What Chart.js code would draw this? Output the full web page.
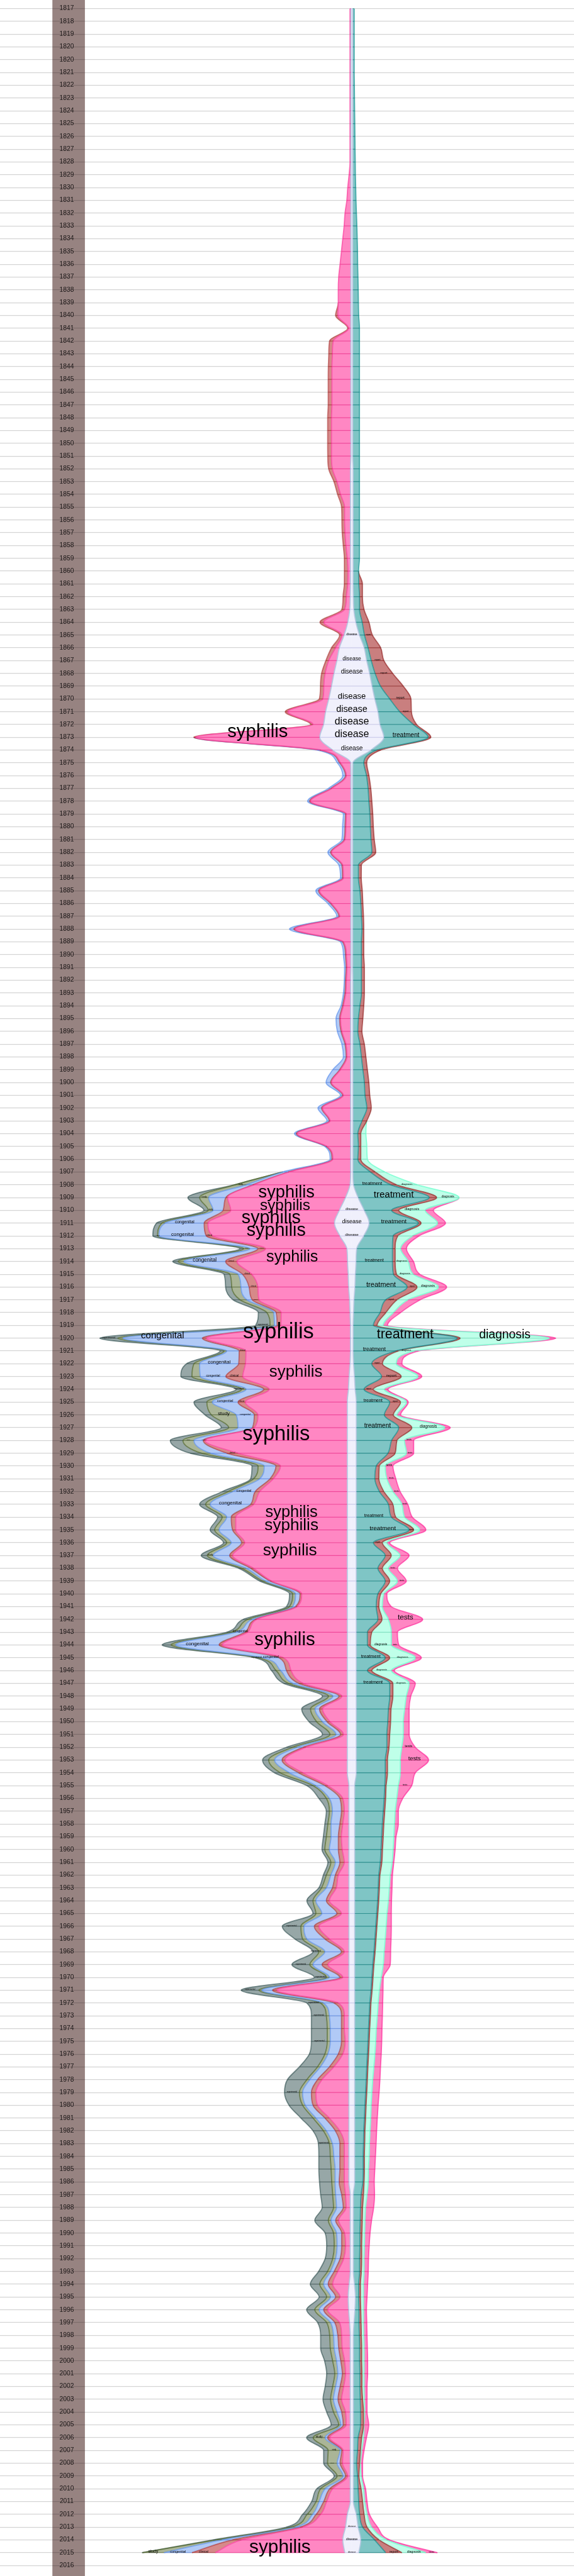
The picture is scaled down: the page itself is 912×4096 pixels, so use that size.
<!DOCTYPE html>
<html><head><meta charset="utf-8">
<style>html,body{margin:0;padding:0;background:#fff;}canvas{display:block;}</style>
<script src="https://cdn.jsdelivr.net/npm/chart.js@4.4.1/dist/chart.umd.min.js"></script>
</head><body>
<canvas id="c" width="912" height="4096"></canvas>
<script>
const years = [
'1817','1818','1819','1820','1820','1821','1822','1823','1824','1825',
'1826','1827','1828','1829','1830','1831','1832','1833','1834','1835',
'1836','1837','1838','1839','1840','1841','1842','1843','1844','1845',
'1846','1847','1848','1849','1850','1851','1852','1853','1854','1855',
'1856','1857','1858','1859','1860','1861','1862','1863','1864','1865',
'1866','1867','1868','1869','1870','1871','1872','1873','1874','1875',
'1876','1877','1878','1879','1880','1881','1882','1883','1884','1885',
'1886','1887','1888','1889','1890','1891','1892','1893','1894','1895',
'1896','1897','1898','1899','1900','1901','1902','1903','1904','1905',
'1906','1907','1908','1909','1910','1911','1912','1913','1914','1915',
'1916','1917','1918','1919','1920','1921','1922','1923','1924','1925',
'1926','1927','1928','1929','1930','1931','1932','1933','1934','1935',
'1936','1937','1938','1939','1940','1941','1942','1943','1944','1945',
'1946','1947','1948','1949','1950','1951','1952','1953','1954','1955',
'1956','1957','1958','1959','1960','1961','1962','1963','1964','1965',
'1966','1967','1968','1969','1970','1971','1972','1973','1974','1975',
'1976','1977','1978','1979','1980','1981','1982','1983','1984','1985',
'1986','1987','1988','1989','1990','1991','1992','1993','1994','1995',
'1996','1997','1998','1999','2000','2001','2002','2003','2004','2005',
'2006','2007','2008','2009','2010','2011','2012','2013','2014','2015',
'2016'];

// centre layer (straddles the middle line)
const disease = [
4,4,4,4,4,4,4,4,4,4, 4,4,4,4,4,4,4,4,4,4, 4,4,4,4,4,4,4,4,4,4, 4,4,4,4,4,4,6,6,6,6,
6,6,6,6,6,6,7,9,18,34, 55,66,79,90,102,116,125,142,85,5, 4,4,4,4,4,4,4,4,4,4, 4,4,4,4,4,4,5,5,5,5,
5,5,5,5,5,5,5,5,5,5, 5,5,8,28,55,77,53,22,19,16, 14,10,8,6,6,6,8,12,15,20, 20,20,20,20,20,20,20,20,20,20,
20,20,20,20,20,20,20,20,20,20, 20,20,20,20,20,20,20,20,20,13, 13,13,13,13,13,13,13,13,13,13, 13,13,13,13,13,13,13,13,13,13,
13,13,13,13,13,13,13,13,13,13, 13,7,7,7,7,7,7,7,12,16, 14,10,7,7,7,7,7,7,7,7, 7,7,7,7,7,7,20,28,40,31];

// left side, from the centre outwards
const syphilis = [
2,2,2,2,2,2,2,2,2,2, 2,2,2,4,7,9,13,15,18,21, 24,27,28,28,29,5,39,41,42,42, 42,42,43,43,43,43,40,30,22,13,
13,12,10,7,5.5,6,8.5,11.5,53,5, 8.5,18,19.5,17,13,83.5,23.5,275,26,22.5, 10,42.5,89.5,10,11,13,43,18,16.6,69.6,
43,24.5,124,16.6,10,8.6,9.5,10.8,16.1,22.5, 19.5,10.5,8.1,22.5,42.5,16.1,62.5,45.5,118.5,52.5,
39.5,136.5,212.5,261,240.5,280,282,180,245,213.5, 201,200.5,152.5,154,319,231.5,231.5,235.5,175.5,226,
198,206,315,242,148,164,194,207.5,247,247, 227,254,207.5,167.7,101,111,201,221,277,141,
124.6,98,11.9,55,38.4,8.6,91.5,138,98,46.5, 13.5,10.1,13.5,16.5,14.7,10.1,23.5,28,43.2,16.5,
66.5,43.2,10.1,46.5,13.5,159.3,23.5,10.1,10.1,8.1, 13.5,33.3,59.5,73.1,69.5,43.2,20,10.1,10.1,10.1,
10.1,10.5,9.1,25.5,12.5,10.4,14.4,27.5,36.4,17.9, 46.7,22,19,17.7,12.4,10.4,14.4,19,10.4,9.1,
45.5,15.7,17.1,5.8,38.9,52.2,59,94.8,224.7,287];

const clinical = [
0,0,0,0,0,0,0,0,0,0, 0,0,0,0,0,0,0,0,0,0, 0,0,0,0,5,2,8.4,8,8,8.3, 8.3,8.3,8.5,8.5,8.5,8.3,8.3,6.7,6.6,6.7,
6,6.3,6,6.6,8,7.6,7.5,6,8.5,5, 9,6.5,8,7.5,8,6,5,4,2.5,2, 2,2,2,2,2,2,2,2,2,2, 2,2,2.5,2,2,2,2,2,2,2,
2,2,2,2,2,2,2,2,2,2, 2,2,3,4,17,8.5,14,17,25,20.5, 19.5,15,11,8.5,9,15,15,37.5,12,16, 8,4,4,25,10,7,10,6.5,10,7,
7,6.6,6.5,3.3,3.7,3.7,3,6,7,10, 10,10,6.6,6.6,6.6,6.4,6.5,6.5,10,6.7, 6.5,6.4,6.5,6.8,8.6,9.9,6.5,8.5,6.7,10,
10,10,6.4,13,6.5,9.9,9.8,6.4,6.4,8.4, 10,9.9,10,9.9,10,10,10,9.9,9.9,9.9, 11.4,8.5,6.4,6.8,6.5,8.6,8,8,10,9.9,
8.6,10.8,8.5,7.8,8.6,7.1,8,8,8.6,6.4, 4.7,3.3,5.3,4.6,6.6,6.6,10,6.2,19.9,51.5];

const congenital = [
0,0,0,0,0,0,0,0,0,0, 0,0,0,0,0,0,0,0,0,0, 0,0,0,0,0,0,0,0,0,0, 0,0,0,0,0,0,0,0,0,0,
0,0,0,0,0,0,0,0,0,0, 0,0,0,0,0,0,0,0,6,5, 6,5.5,4.5,4.6,5.5,5,6,6.5,4.4,6, 6,4.5,9.5,4.4,4.6,3.4,2.6,3.3,3.3,8,
8,7,6,15,10,4.4,8,5,4,3, 4,12,14,38,22,86.5,104.5,17.5,92.5,10, 18,12,5.5,6,176,27.5,86.5,56.5,39,57,
40,32,20.5,36,26,23,50,89.7,10,30, 23,36.4,10,10,10,6.3,7,20,96,36.6, 13.2,13,13.3,10,10,10,13,16.5,20,19.9,
23.2,20,19.5,16.2,19.9,10,9.9,13.4,23.2,33.3, 23,39.8,36.7,20,23.2,23.3,23.2,26.7,24.7,24.7,
23,19.9,17,19.5,17,19.9,19.9,16.5,13.3,10.5, 9,13.3,14.8,10,11.3,10,9.9,8,9.9,11.2,
10,9.2,9.5,10,9.3,10,9.9,10,10,5.5, 5.3,3.4,6.6,5.3,10,10,7.9,10,23.4,62];

const study = [
0,0,0,0,0,0,0,0,0,0, 0,0,0,0,0,0,0,0,0,0, 0,0,0,0,0,0,0,0,0,0, 0,0,0,0,0,0,0,0,0,0,
0,0,0,0,0,0,0,0,0,0, 0,0,0,0,0,0,0,0,0,0, 0,0,0,0,0,0,0,0,0,0, 0,0,0,0,0,0,0,0,0,0,
0,0,0,0,0,0,0,0,0,0, 0,0,25,20,11,7.5,3,14,12.5,18, 20.5,15,15,9.5,11,6,12.5,18.5,10,12,
55,20.5,24.5,20,13.6,13.5,10,9.9,10,9.7, 10,13,10,6.6,6.3,7,10,10,10,10, 10,10,9.9,9.9,13,13.4,10,13,20,6.4,
6.7,6.7,7,10.4,10,9.9,10,10.6,6.4,13.3, 6.7,9.5,13.3,7,6.3,6.6,6.6,6.7,6.7,6.7, 6.7,6.4,6.5,7,6,6.4,6.6,6.7,7.9,8.8,
7.4,6.6,6.7,6.2,6.7,6.5,6.6,6.7,8.7,8.7, 9.7,8.7,8.5,8.7,8.6,6.8,6.6,6.5,8,4.5, 26.5,26.5,21.2,13.3,10,6.7,11.9,10,13,47.5];

const experimental = [
0,0,0,0,0,0,0,0,0,0, 0,0,0,0,0,0,0,0,0,0, 0,0,0,0,0,0,0,0,0,0, 0,0,0,0,0,0,0,0,0,0,
0,0,0,0,0,0,0,0,0,0, 0,0,0,0,0,0,0,0,0,0, 0,0,0,0,0,0,0,0,0,0, 0,0,0,0,0,0,0,0,0,0,
0,0,0,0,0,0,0,0,0,0, 0,0,1.5,26,9.5,11.5,10.5,8.5,12,13, 13.5,15.5,19,32,40,8.5,16.5,24.5,12,28.5,
14,16.5,28,25,13.4,6.5,13,13.4,10,10, 7,13.6,6.6,6.4,7,6.6,9.7,10,20,6.4, 9.9,10,13.3,19.5,16.8,16.6,13.6,13.6,13,13.5,
16.6,6.7,6.7,6.6,6.3,6.6,6.6,6,13.5,6.4, 41.3,17,13,39.6,27,39.4,29.9,33.1,35.1,35.1, 34.3,40,43.1,33,30,26.7,23,24.3,25.3,27.2,
27.2,26.6,25.1,30,18.5,16.7,16.6,19.9,21,16.6, 18,19.9,20,21.3,17.9,17.9,16.6,16.7,15.2,16.8, 14.5,9.9,8.6,6.5,8.6,9.9,10,10,6.7,1];

// right side, from the centre outwards
const treatment = [
3.3,3.3,3.3,3.3,3.3,3.3,3.7,4,4.3,4.7, 5,5.3,5.7,6,6.7,7.3,8.3,9.3,10,10.7, 11,11.7,12.3,12.7,13.3,15,15,15,15,15, 15,15,15,15,15,15,14,14,14,14,
14,14,14,14,12,12.5,13.5,12.5,14,11, 8.5,10,12,18.5,33,48,73.5,98,12.5,24, 30.5,34,35.8,37.8,39,40.4,42.4,12.6,12.6,15.9,
17.9,19.2,20.5,19.2,19.2,19.2,18.7,18.7,15.4,12.1, 10.8,15.4,18.7,22,25.3,26.7,30.7,20,10.8,12.1,
10.8,38.5,82,157.5,60.5,109,65,79,80.5,84, 115.5,70,58.5,44.7,230.5,94,40,60,19.5,74,
62,94,78,70,44,41,51,71,77.5,117, 37.7,64,47.7,64,47.7,44,47.7,24.5,24.5,64, 24.5,74,74,71,69.6,67.6,67.6,64,64,66.5,
65.1,63.1,61.1,59.5,58.1,56.5,53.2,51.9,50.5,48.5, 46.5,44.5,42.5,39.9,37.9,35.9,33.3,32,30.5,29.3, 28,26.5,25.3,24,22.5,21.4,20,19.4,18.7,18.7,
18,17.1,15.7,15.1,14.4,14.4,13.7,13.7,9.3,7.3, 8.9,10.9,13.1,13.7,13.7,14.4,14.4,15.1,15.7,15.7, 10.4,9.1,7.1,9.1,10.4,11.8,7.2,9.9,30.4,59.5];

const report = [
0,0,0,0,0,0,0,0,0,0, 0,0,0,0,0,0,0,0,0,0, 0,0,0,0,0,0,0,0,0,0, 0,0,0,0,0,0,0,0,0,0,
0,0,0,0,0,8,6.5,10,15,17.5, 28,28,39,50.5,47,26,7.5,6,9,6.5, 5.5,6,6.6,6.6,6.7,7.3,8.6,6.6,6.4,5.3, 4.6,4.7,4,5.3,5.3,6.6,6.6,6.6,8.6,9.9,
9.2,9.9,10,10,10,10.6,9.9,10.7,6.6,5.3, 6.6,11,13,16.5,16,6,10.5,6,6,7, 22,25,13,8.3,6.5,6,24,43.5,20.6,24,
20,29,12,16,7,9,10,10,10,10, 19.9,13.5,9.9,10,6.3,6,9.3,9.9,6.5,10, 9.9,7,7,6,6.4,6.4,4.9,5,5,3,
3.4,3.4,3.4,3.6,3.4,3.6,2.7,2.7,2.7,2.7, 2.7,2.7,2.7,2.7,2.7,2.7,2.7,2.7,2.7,2.7, 2.7,2.7,2.7,2.7,2.7,2.7,2.7,2.7,2.7,2.7,
2.7,5.3,4.7,4.6,4.6,4,4.7,4,3.9,3.9, 4,4.7,4.6,4.7,4.7,4.6,4.6,5.3,6.7,6.7, 8,6.6,6.6,3.3,6.7,8.6,10,9.9,9.9,36];

const diagnosis = [
0,0,0,0,0,0,0,0,0,0, 0,0,0,0,0,0,0,0,0,0, 0,0,0,0,0,0,0,0,0,0, 0,0,0,0,0,0,0,0,0,0,
0,0,0,0,0,0,0,0,0,0, 0,0,0,0,0,0,0,0,0,0, 0,0,0,0,0,0,0,0,0,0, 0,0,0,0,0,0,0,0,0,0,
0,0,0,0,0,0,0,0,11.3,13.3, 14.6,21,46,49.5,58.5,36.5,32.5,12,29,37, 47.5,24,16.5,13.5,197.5,36,30.5,37,24.4,13,
8,73,16.5,25,13,17.6,20,20,19.5,13.5, 10,19.5,13.4,17,7,7.6,14,43.1,46.5,56.6, 43.1,36,29.7,30,28,30,28.2,28.4,28.4,27,
24.5,23,23.5,23.4,23.5,22.9,22.7,22,21.3,20.3, 20.3,20.3,19.9,20.6,18,16,16,15.4,14.6,14.5, 14,13.2,11.9,11.4,11.2,11.3,11.3,10.5,10.6,9.1,
9.3,7.9,6.6,6,6,6,5.3,6,6.7,6.7, 6,5.3,5.3,5.3,5.3,4.7,4.7,4,2.6,1, 4,2.7,2,4.7,5.3,4.6,6.6,10,16.7,53];

const tests = [
0,0,0,0,0,0,0,0,0,0, 0,0,0,0,0,0,0,0,0,0, 0,0,0,0,0,0,0,0,0,0, 0,0,0,0,0,0,0,0,0,0,
0,0,0,0,0,0,0,0,0,0, 0,0,0,0,0,0,0,0,0,0, 0,0,0,0,0,0,0,0,0,0, 0,0,0,0,0,0,0,0,0,0,
0,0,0,0,0,0,0,0,0,0, 0,0,0,0,18,17.5,14.5,13,11.5,14.5, 18,27.5,16,9.5,14,9,12.5,8.5,8,4,
8,12,20.5,16,17,19.9,16,13,17,13.5, 6.4,20,20,19.7,6.6,19.9,76,13.5,16.5,13.4, 6.5,13.6,9.9,10,13,13,29.9,62.6,33.2,29.6,
13.2,7,8.5,5,4.5,3.5,5,6,7,9.5, 11.5,13,14.4,15.4,4.6,8,9.9,11.2,12.6,13.3, 14,14.7,15.9,15.9,15.4,14.6,14.5,14.7,13.9,14,
13.2,16.6,17.9,14.6,12,10.6,9.9,9.3,9.2,7.9, 6.6,7.3,7.3,7.3,7.9,7.9,6.6,5.9,5.3,10.6, 6.6,5.3,4.7,3.3,4.6,5.3,5.3,13.2,6.6,25.5];

// words written in the streams: [row, word, weight]
const wordLabels = [
 [49,'disease',7],[51,'disease',12],[52,'disease',14],[54,'disease',18],[55,'disease',20],[56,'disease',22],[57,'disease',22],[58,'disease',14],
 [49,'report',4],[51,'report',5],[52,'report',6],[54,'report',7],[55,'report',5],
 [57,'syphilis',41],[57,'treatment',14],
 [92,'treatment',10.5],[92,'diagnosis',5.8],[92,'study',4],
 [93,'syphilis',38],[93,'treatment',21],[93,'diagnosis',6.7],[93,'study',5],
 [94,'syphilis',34],[94,'disease',8],[94,'diagnosis',7.7],[94,'study',4],
 [95,'syphilis',40],[95,'disease',12.5],[95,'treatment',13.4],[95,'congenital',9.4],
 [96,'syphilis',40],[96,'disease',8.7],[96,'congenital',11],[96,'clinical',4],[96,'study',3],
 [97,'study',3],[97,'clinical',3],
 [98,'syphilis',35],[98,'congenital',11.6],[98,'treatment',10],[98,'diagnosis',5.8],[98,'clinical',4],
 [99,'diagnosis',5.5],[99,'clinical',4],
 [100,'treatment',15.5],[100,'diagnosis',7.3],[100,'report',4],[100,'clinical',4],
 [101,'report',4.5],[101,'clinical',3],
 [103,'experimental',4],
 [104,'syphilis',48],[104,'congenital',21],[104,'experimental',5],[104,'treatment',29.7],[104,'diagnosis',27],
 [105,'treatment',12],[105,'diagnosis',5],[105,'clinical',4],
 [106,'congenital',11],[106,'report',4.5],
 [107,'syphilis',36],[107,'congenital',6.8],[107,'clinical',6.5],[107,'report',8.7],
 [108,'experimental',4],[108,'report',4],
 [109,'congenital',7.8],[109,'treatment',10],[109,'report',4.5],[109,'clinical',4],
 [110,'study',11],[110,'congenital',5.3],
 [111,'treatment',14],[111,'diagnosis',9],
 [112,'syphilis',45.5],[112,'study',3.5],[112,'clinical',3.5],[112,'tests',5.4],
 [113,'clinical',4],[113,'tests',5],
 [114,'tests',6.3],[115,'tests',5],[116,'congenital',7.3],[116,'tests',5],[117,'congenital',11],[117,'tests',5],
 [118,'syphilis',35.4],[118,'treatment',10],
 [119,'syphilis',36.4],[119,'treatment',13.8],[119,'report',4],
 [120,'report',4],
 [121,'syphilis',36.6],[121,'study',5],
 [122,'tests',5],[123,'tests',5],
 [126,'tests',16.3],
 [127,'congenital',7.4],
 [128,'syphilis',41],[128,'congenital',11.2],[128,'diagnosis',6.6],[128,'tests',4],
 [129,'congenital',7.7],[129,'experimental',4],[129,'treatment',10.2],[129,'diagnosis',6],
 [130,'diagnosis',5.5],
 [131,'treatment',10.2],[131,'diagnosis',5],
 [136,'tests',7.8],[137,'tests',13],[139,'tests',5],
 [150,'experimental',4],[152,'experimental',4],[153,'experimental',4],[154,'experimental',4],[155,'experimental',4],
 [156,'experimental',4],[157,'experimental',4],[159,'experimental',4],[163,'experimental',4],[167,'experimental',4],
 [190,'study',6.4],[191,'study',4],[192,'study',3.5],[193,'study',3.5],[196,'study',3.5],
 [197,'disease',5],[198,'disease',7.5],[199,'disease',5],
 [199,'syphilis',41.5],[199,'study',9],[199,'congenital',7.7],[199,'clinical',7],[199,'report',7.4],[199,'diagnosis',7.2],[199,'tests',5.6]
];

// ---------- styling ----------
const REF_W = 1271;
const K = 912 / REF_W;
const styles = {
  disease:      {fill:'rgba(230,230,250,0.6)', line:'rgba(176,196,222,0.85)', row:'rgba(200,200,238,0.7)'},
  syphilis:     {fill:'rgba(255,105,180,0.8)', line:'rgba(250,70,160,0.75)',  row:'rgba(235,30,130,0.55)'},
  clinical:     {fill:'rgba(180,40,40,0.55)',  line:'rgba(160,30,30,0.5)',    row:'rgba(150,20,20,0.45)'},
  congenital:   {fill:'rgba(100,149,237,0.5)', line:'rgba(100,149,237,0.7)',  row:'rgba(70,120,225,0.5)'},
  study:        {fill:'rgba(85,107,47,0.5)',   line:'rgba(85,107,47,0.7)',    row:'rgba(70,90,35,0.5)'},
  experimental: {fill:'rgba(47,79,79,0.5)',    line:'rgba(47,79,79,0.6)',     row:'rgba(35,60,60,0.45)'},
  treatment:    {fill:'rgba(0,139,139,0.5)',   line:'rgba(0,139,139,0.6)',    row:'rgba(0,120,120,0.55)'},
  report:       {fill:'rgba(165,42,42,0.6)',   line:'rgba(139,20,20,0.6)',    row:'rgba(130,15,15,0.5)'},
  diagnosis:    {fill:'rgba(127,255,212,0.5)', line:'rgba(127,255,212,0.9)',  row:'rgba(90,220,180,0.5)'},
  tests:        {fill:'rgba(255,105,180,0.8)', line:'rgba(255,20,147,0.6)',   row:'rgba(235,30,130,0.55)'}
};

// ---------- build layer boundaries ----------
const leftNames = ['syphilis','clinical','congenital','study','experimental'];
const leftVals  = [syphilis, clinical, congenital, study, experimental];
const rightNames = ['treatment','report','diagnosis','tests'];
const rightVals  = [treatment, report, diagnosis, tests];
const negHalf = disease.map(v => -v / 2);
const posHalf = disease.map(v => v / 2);
const edges = {disease: [negHalf, posHalf]};
const thick = {disease: disease};
let prev = negHalf;
leftVals.forEach((arr, i) => {
  const next = prev.map((v, j) => v - arr[j]);
  edges[leftNames[i]] = [prev, next]; thick[leftNames[i]] = arr; prev = next;
});
prev = posHalf;
rightVals.forEach((arr, i) => {
  const next = prev.map((v, j) => v + arr[j]);
  edges[rightNames[i]] = [prev, next]; thick[rightNames[i]] = arr; prev = next;
});

function layerSet(name, data, fill) {
  const arr = thick[name];
  const st = styles[name];
  return {
    label: name, data: data, fill: fill,
    backgroundColor: st.fill, borderColor: st.line, borderWidth: 1.8,
    pointRadius: 0,
    segment: {
      borderColor: c => (arr[c.p0DataIndex] < 0.5 && arr[c.p1DataIndex] < 0.5) ? 'rgba(0,0,0,0)' : st.line
    }
  };
}

const datasets = [];
datasets.push({label:'centre', data: disease.map(() => 0), fill:false, borderWidth:0, pointRadius:0, borderColor:'rgba(0,0,0,0)'});
datasets.push(layerSet('disease', negHalf, 0));
leftNames.forEach(n => datasets.push(layerSet(n, edges[n][1], '-1')));
datasets.push(layerSet('disease', posHalf, 0));
rightNames.forEach(n => datasets.push(layerSet(n, edges[n][1], '-1')));

const columnPlugin = {
  id: 'yearColumn',
  beforeDraw(chart) {
    const ctx = chart.ctx;
    ctx.save();
    ctx.fillStyle = '#ffffff';
    ctx.fillRect(0, 0, chart.width, chart.height);
    ctx.fillStyle = '#978381';
    ctx.fillRect(116 * K, 0, 72 * K, chart.height);
    ctx.restore();
  }
};

// year rule tinted by the layer it crosses
const rowTintPlugin = {
  id: 'rowTint',
  afterDatasetsDraw(chart) {
    const {ctx} = chart;
    const x = chart.scales.x, y = chart.scales.y;
    ctx.save();
    ctx.lineWidth = 1.2;
    const names = ['disease'].concat(leftNames, rightNames);
    for (let r = 0; r < disease.length; r++) {
      const py = y.getPixelForValue(r);
      for (const n of names) {
        if (thick[n][r] < 0.5) continue;
        const e = edges[n];
        ctx.strokeStyle = styles[n].row;
        ctx.beginPath();
        ctx.moveTo(x.getPixelForValue(e[0][r]), py);
        ctx.lineTo(x.getPixelForValue(e[1][r]), py);
        ctx.stroke();
      }
    }
    ctx.restore();
  }
};

const wordPlugin = {
  id: 'words',
  afterDatasetsDraw(chart) {
    const {ctx} = chart;
    const x = chart.scales.x, y = chart.scales.y;
    ctx.save();
    ctx.fillStyle = '#000';
    ctx.textAlign = 'center';
    ctx.textBaseline = 'alphabetic';
    for (const [row, word, w] of wordLabels) {
      const e = edges[word];
      const cx = x.getPixelForValue((e[0][row] + e[1][row]) / 2);
      const cy = y.getPixelForValue(row);
      const fs = w * K;
      ctx.font = fs.toFixed(2) + 'px "Liberation Sans", Arial, sans-serif';
      ctx.fillText(word, cx, cy);
    }
    ctx.restore();
  }
};

new Chart(document.getElementById('c'), {
  type: 'line',
  data: {labels: years, datasets: datasets},
  options: {
    indexAxis: 'y',
    responsive: false,
    animation: false,
    devicePixelRatio: 1,
    events: [],
    layout: {padding: {top: 19 * K, bottom: 4096 - 5685 * K, left: 0, right: 0}},
    elements: {line: {cubicInterpolationMode: 'monotone'}, point: {radius: 0}},
    scales: {
      x: {type: 'linear', display: false, min: -779, max: REF_W - 779},
      y: {type: 'category', position: 'left', offset: false,
          afterFit: s => { s.width = 0; s.paddingTop = 0; s.paddingBottom = 0; },
          grid: {color: 'rgba(0,0,0,0.17)', lineWidth: 1.2, drawTicks: false},
          border: {display: false},
          ticks: {autoSkip: false, mirror: true, crossAlign: 'center', padding: 94.5,
                  color: '#1c1818', font: {family: '"Liberation Sans", Arial, sans-serif', size: 10.3}}}
    },
    plugins: {legend: {display: false}, tooltip: {enabled: false}, filler: {propagate: false}}
  },
  plugins: [columnPlugin, rowTintPlugin, wordPlugin]
});
</script>
</body></html>
